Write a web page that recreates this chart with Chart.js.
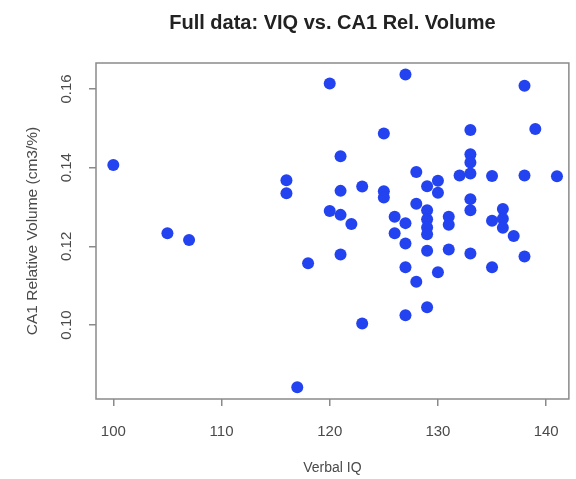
<!DOCTYPE html>
<html>
<head>
<meta charset="utf-8">
<title>Full data: VIQ vs. CA1 Rel. Volume</title>
<script src="https://cdn.jsdelivr.net/npm/chart.js@4.4.1/dist/chart.umd.min.js"></script>
<style>
    html, body { margin: 0; padding: 0; background: #ffffff; }
    #chart { display: block; }
</style>
</head>
<body>
<canvas id="chart" width="576" height="479"></canvas>
<script>
// ====================================
// DATA
// ====================================

const verbalIQ = [
    100, 105, 107, 116, 116, 117, 118, 120, 120, 121,
    121, 121, 121, 122, 123, 123, 125, 125, 125, 126,
    126, 127, 127, 127, 127, 127, 128, 128, 128, 129,
    129, 129, 129, 129, 129, 129, 130, 130, 130, 131,
    131, 131, 132, 133, 133, 133, 133, 133, 133, 133,
    135, 135, 135, 136, 136, 136, 137, 138, 138, 138,
    139, 141
];

const ca1RelVolume = [
    0.1407, 0.1233, 0.1216, 0.1368, 0.1335, 0.0842, 0.1157, 0.1614, 0.1290, 0.1429,
    0.1341, 0.1280, 0.1179, 0.1257, 0.1352, 0.1004, 0.1487, 0.1340, 0.1324, 0.1275,
    0.1233, 0.1637, 0.1259, 0.1207, 0.1147, 0.1025, 0.1389, 0.1308, 0.1110, 0.1353,
    0.1292, 0.1269, 0.1248, 0.1231, 0.1189, 0.1045, 0.1367, 0.1336, 0.1134, 0.1275,
    0.1255, 0.1192, 0.1380, 0.1496, 0.1434, 0.1413, 0.1385, 0.1320, 0.1292, 0.1182,
    0.1379, 0.1265, 0.1147, 0.1295, 0.1270, 0.1247, 0.1226, 0.1608, 0.1380, 0.1174,
    0.1498, 0.1378
];

const xTicks = [100, 110, 120, 130, 140];
const yTicks = [0.10, 0.12, 0.14, 0.16];
const yTickLabels = ['0.10', '0.12', '0.14', '0.16'];

const chartTitle = 'Full data: VIQ vs. CA1 Rel. Volume';
const xTitle = 'Verbal IQ';
const yTitle = 'CA1 Relative Volume (cm3/%)';

// ====================================
// STYLE
// ====================================

const FONT = "'Liberation Sans', Arial, Helvetica, sans-serif";
const pointColor = 'rgb(35, 66, 240)';
const axisColor = '#8a8a8a';
const labelColor = '#4a4a4a';

// Box around the plot region (R style)
const boxPlugin = {
    id: 'plotBox',
    afterDatasetsDraw(chart) {
        const { ctx, chartArea } = chart;
        ctx.save();
        ctx.strokeStyle = axisColor;
        ctx.lineWidth = 1.5;
        ctx.strokeRect(chartArea.left, chartArea.top,
            chartArea.right - chartArea.left, chartArea.bottom - chartArea.top);
        ctx.restore();
    }
};

// Build the point list
const points = verbalIQ.map((x, i) => ({ x: x, y: ca1RelVolume[i] }));

new Chart(document.getElementById('chart'), {
    type: 'scatter',
    data: {
        datasets: [{
            data: points,
            backgroundColor: pointColor,
            borderWidth: 0,
            pointRadius: 6,
            pointHoverRadius: 6
        }]
    },
    options: {
        responsive: false,
        animation: false,
        layout: {
            padding: { top: 0, left: 0, right: 4, bottom: 0 }
        },
        plugins: {
            legend: { display: false },
            tooltip: { enabled: false },
            title: {
                display: true,
                text: chartTitle,
                fullSize: false,
                color: '#222222',
                font: { family: FONT, size: 20, weight: 'bold' },
                padding: { top: 11, bottom: 28 }
            }
        },
        scales: {
            x: {
                type: 'linear',
                min: 98.4,
                max: 142.1,
                afterFit: scale => { scale.height = 80; },
                afterBuildTicks: scale => {
                    scale.ticks = xTicks.map(v => ({ value: v }));
                },
                grid: {
                    drawOnChartArea: false,
                    drawTicks: true,
                    tickLength: 7,
                    color: axisColor,
                    lineWidth: 1.5
                },
                border: { display: false },
                ticks: {
                    color: labelColor,
                    padding: 17,
                    maxRotation: 0,
                    font: { family: FONT, size: 15 }
                },
                title: {
                    display: true,
                    text: xTitle,
                    color: labelColor,
                    font: { family: FONT, size: 14 },
                    padding: { top: 0, bottom: 2 }
                }
            },
            y: {
                type: 'linear',
                min: 0.0812,
                max: 0.1666,
                afterFit: scale => { scale.width = 96; },
                afterBuildTicks: scale => {
                    scale.ticks = yTicks.map(v => ({ value: v }));
                },
                grid: {
                    drawOnChartArea: false,
                    drawTicks: true,
                    tickLength: 7,
                    color: axisColor,
                    lineWidth: 1.5
                },
                border: { display: false },
                ticks: {
                    color: labelColor,
                    padding: 8,
                    minRotation: 90,
                    maxRotation: 90,
                    crossAlign: 'center',
                    font: { family: FONT, size: 15 },
                    callback: function(value) {
                        const idx = yTicks.findIndex(t => Math.abs(t - value) < 1e-9);
                        return idx >= 0 ? yTickLabels[idx] : '';
                    }
                },
                title: {
                    display: true,
                    text: yTitle,
                    color: labelColor,
                    font: { family: FONT, size: 15.5 },
                    padding: { top: 23, bottom: 0 }
                }
            }
        }
    },
    plugins: [boxPlugin]
});
</script>
</body>
</html>
